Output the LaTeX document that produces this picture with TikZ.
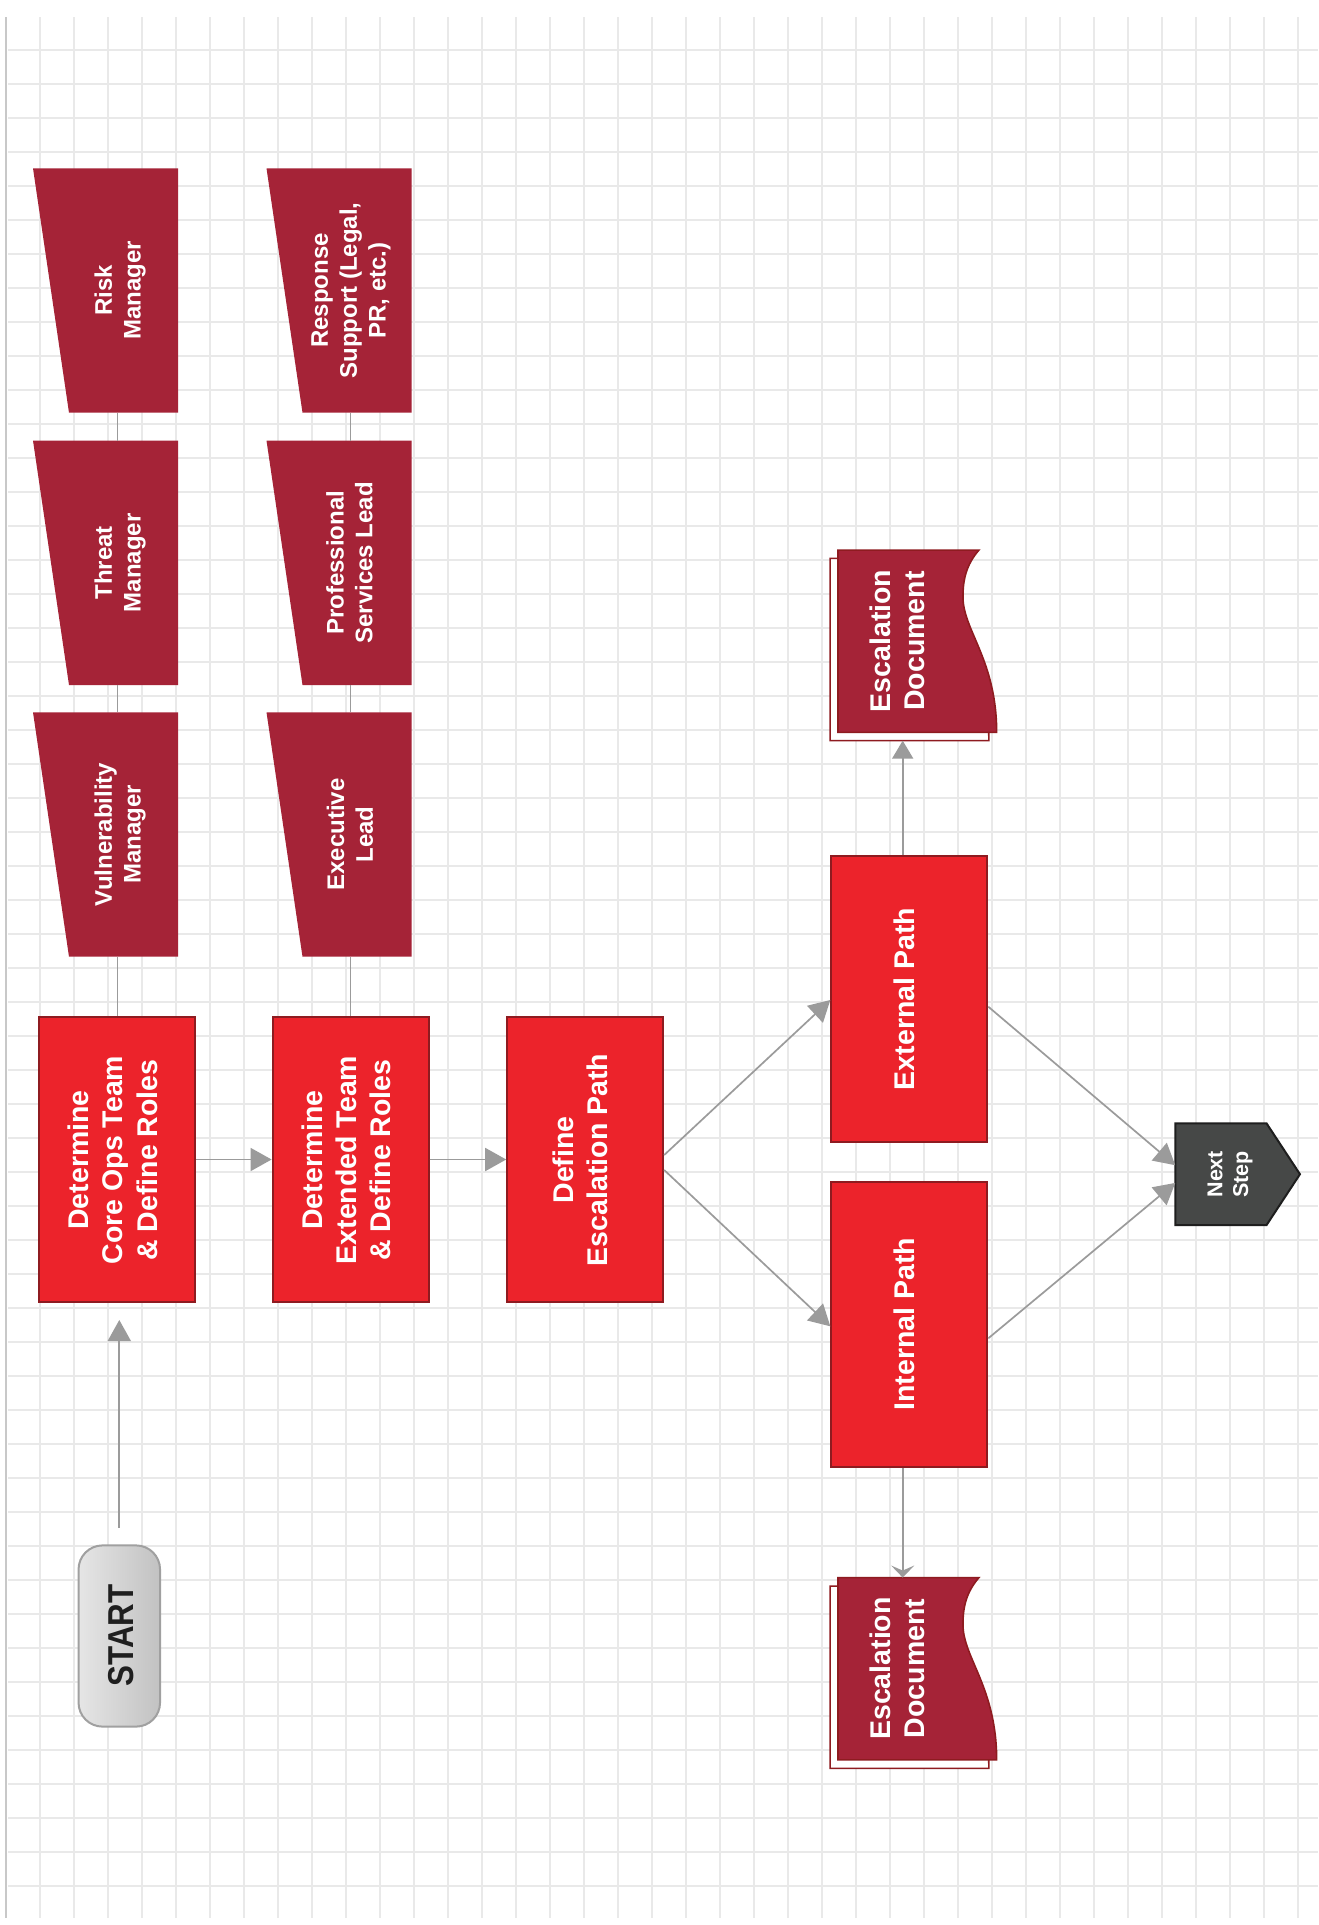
\documentclass[tikz,border=0pt]{standalone}
\usepackage{fontspec}
\usepackage{graphicx}
\setmainfont{Liberation Sans}
\usetikzlibrary{arrows.meta,calc}
\definecolor{boxred}{HTML}{EC232B}
\definecolor{boxborder}{HTML}{8E1B20}
\definecolor{trapred}{HTML}{A52337}
\definecolor{linegray}{HTML}{9B9B9B}
\definecolor{gridgray}{HTML}{E9E9E9}
\definecolor{gridedge}{HTML}{C8C8C8}
\definecolor{nsfill}{HTML}{464847}
\definecolor{nsborder}{HTML}{1E1E1E}
\definecolor{startborder}{HTML}{A0A0A0}
\begin{document}
\begin{tikzpicture}[x=1pt,y=-1pt,
  gridline/.style={draw=gridgray,line width=1.2pt},
  mainbox/.style={draw=boxborder,fill=boxred,line width=2pt,minimum width=156pt,minimum height=285.6pt,inner sep=0pt},
  trapbox/.style={inner sep=0pt,outer sep=0pt,minimum width=145pt,minimum height=244.4pt},
  docbox/.style={inner sep=0pt,outer sep=0pt,minimum width=158.7pt,minimum height=182.3pt},
  nsbox/.style={inner sep=0pt,outer sep=0pt,minimum width=124.7pt,minimum height=101.7pt},
  startbox/.style={draw=startborder,line width=2pt,rounded corners=24pt,left color=black!10,middle color=black!2,right color=black!24,minimum width=81.5pt,minimum height=181.2pt,inner sep=0pt},
  maintxt/.style={text=white,align=center,rotate=90,inner sep=0pt,font=\bfseries\fontsize{28.5}{34.2}\selectfont},
  traptxt/.style={text=white,align=center,rotate=90,inner sep=0pt,font=\bfseries\fontsize{24}{28.8}\selectfont},
  nstxt/.style={text=white,align=center,rotate=90,inner sep=0pt,font=\bfseries\fontsize{21.5}{25.8}\selectfont},
  conn/.style={draw=linegray,line width=1.4pt},
  arr/.style={draw=linegray,line width=1.7pt,-{Triangle[length=21pt,width=23pt,color=linegray]}},
  arrsmall/.style={draw=linegray,line width=1.7pt,-{Triangle[length=18pt,width=21pt,color=linegray]}},
  arrstealth/.style={draw=linegray,line width=1.7pt,-{Stealth[length=12pt,width=23pt,inset=5pt,color=linegray]}}
]
\fill[white] (0,0) rectangle (1318,1925);
\useasboundingbox (0,0) rectangle (1318,1925);
% grid
\foreach \i in {0,...,54} \draw[gridline] (8,{50+34*\i}) -- (1318,{50+34*\i});
\foreach \i in {0,...,37} \draw[gridline] ({40+34*\i},17) -- ({40+34*\i},1918);
\draw[draw=gridedge,line width=2pt] (5.5,17) -- (5.5,1918);

% main boxes
\node[mainbox] (b1) at (117.2,1159.5) {};
\node[mainbox] (b2) at (350.6,1159.5) {};
\node[mainbox] (b3) at (585.2,1159.5) {};
\node[mainbox] (ext) at (909.3,999) {};
\node[mainbox] (int) at (909.3,1324.3) {};

% trapezoid role boxes
\node[trapbox] (rm) at (105.5,290.5) {};
\node[trapbox] (tm) at (105.5,562.8) {};
\node[trapbox] (vm) at (105.5,834.5) {};
\node[trapbox] (rs) at (339,290.5) {};
\node[trapbox] (ps) at (339,562.8) {};
\node[trapbox] (el) at (339,834.5) {};
\foreach \n in {rm,tm,vm,rs,ps,el}{
  \fill[trapred] (\n.north west) -- (\n.north east) -- (\n.south east) -- ($(\n.south west)+(36,0)$) -- cycle;
}

% documents
\node[docbox] (uds) at (909.5,649.5) {};
\node[docbox] (ud) at (917.3,641.2) {};
\node[docbox] (lds) at (909.5,1677.2) {};
\node[docbox] (ld) at (917.3,1668.7) {};
\foreach \n/\c in {uds/white,lds/white,ud/trapred,ld/trapred}{
  \draw[draw=boxborder,line width=1.6pt,fill=\c] (\n.north west) -- ($(\n.north west)+(141,0)$)
    .. controls ($(\n.north west)+(128,15)$) and ($(\n.north west)+(125,30)$) .. ($(\n.north west)+(125,47)$)
    .. controls ($(\n.north west)+(125,80)$) and ($(\n.north west)+(158.7,110)$) .. (\n.south east)
    -- (\n.south west) -- cycle;
}

% next step
\node[nsbox] (ns) at (1237.6,1174.2) {};
\draw[draw=nsborder,fill=nsfill,line width=2pt] (ns.north west) -- ($(ns.north east)+(-33.4,0)$) -- (ns.east) -- ($(ns.south east)+(-33.4,0)$) -- (ns.south west) -- cycle;

% start
\node[startbox] (st) at (119.3,1636) {};

% texts
\node[maintxt] (t1) at (112.7,1160) {Determine\\Core Ops Team\\\& Define Roles};
\node[maintxt] (t2) at (346.1,1160) {Determine\\Extended Team\\\& Define Roles};
\node[maintxt] (t3) at (580.7,1160) {Define\\Escalation Path};
\node[maintxt] (t4) at (904.8,999) {External Path};
\node[maintxt] (t5) at (904.8,1324.3) {Internal Path};
\node[maintxt] (t6) at (897.5,641) {Escalation\\Document};
\node[maintxt] (t7) at (897.5,1668.5) {Escalation\\Document};
\node[traptxt] (t8) at (120,290.5) {Risk\\Manager};
\node[traptxt] (t9) at (120,562.8) {Threat\\Manager};
\node[traptxt] (t10) at (120,834.5) {Vulnerability\\Manager};
\node[traptxt] (t11) at (351,290.5) {Response\\Support (Legal,\\PR, etc.)};
\node[traptxt] (t12) at (349.5,562.8) {Professional\\Services Lead};
\node[traptxt] (t13) at (350,834.5) {Executive\\Lead};
\node[nstxt] (t14) at (1230,1174.2) {Next\\Step};
\node[rotate=90,inner sep=0pt,text=black!88,font=\bfseries\fontsize{36}{40}\selectfont] (t15) at (121,1635.5) {\scalebox{0.87}[1]{START}};

% role connectors
\draw[conn] (b1.north) -- (b1.north |- vm.south);
\draw[conn] (b1.north |- vm.north) -- (b1.north |- tm.south);
\draw[conn] (b1.north |- tm.north) -- (b1.north |- rm.south);
\draw[conn] (b2.north) -- (b2.north |- el.south);
\draw[conn] (b2.north |- el.north) -- (b2.north |- ps.south);
\draw[conn] (b2.north |- ps.north) -- (b2.north |- rs.south);

% flow arrows
\draw[arr,shorten <=16.5pt,shorten >=16.7pt] (st.north) -- (st.north |- b1.south);
\draw[arr] (b1.east) -- (b2.west);
\draw[arr] (b2.east) -- (b3.west);
\draw[arr] ([yshift=4.5pt]b3.east) -- ([yshift=-1pt]ext.west);
\draw[arr] ([yshift=-10.5pt]b3.east) -- ([yshift=-2pt]int.west);
\draw[arr] ([yshift=-7.7pt]ext.east) -- ([yshift=9pt]ns.west);
\draw[arr] ([yshift=-14pt]int.east) -- ([yshift=-8.7pt]ns.west);
\draw[arrsmall] ([xshift=-6.6pt]ext.north) -- ([xshift=-6.6pt]ext.north |- uds.south);
\draw[arrstealth] ([xshift=-6.6pt]int.south) -- ([xshift=-6.6pt]int.south |- ld.north);
\end{tikzpicture}
\end{document}
